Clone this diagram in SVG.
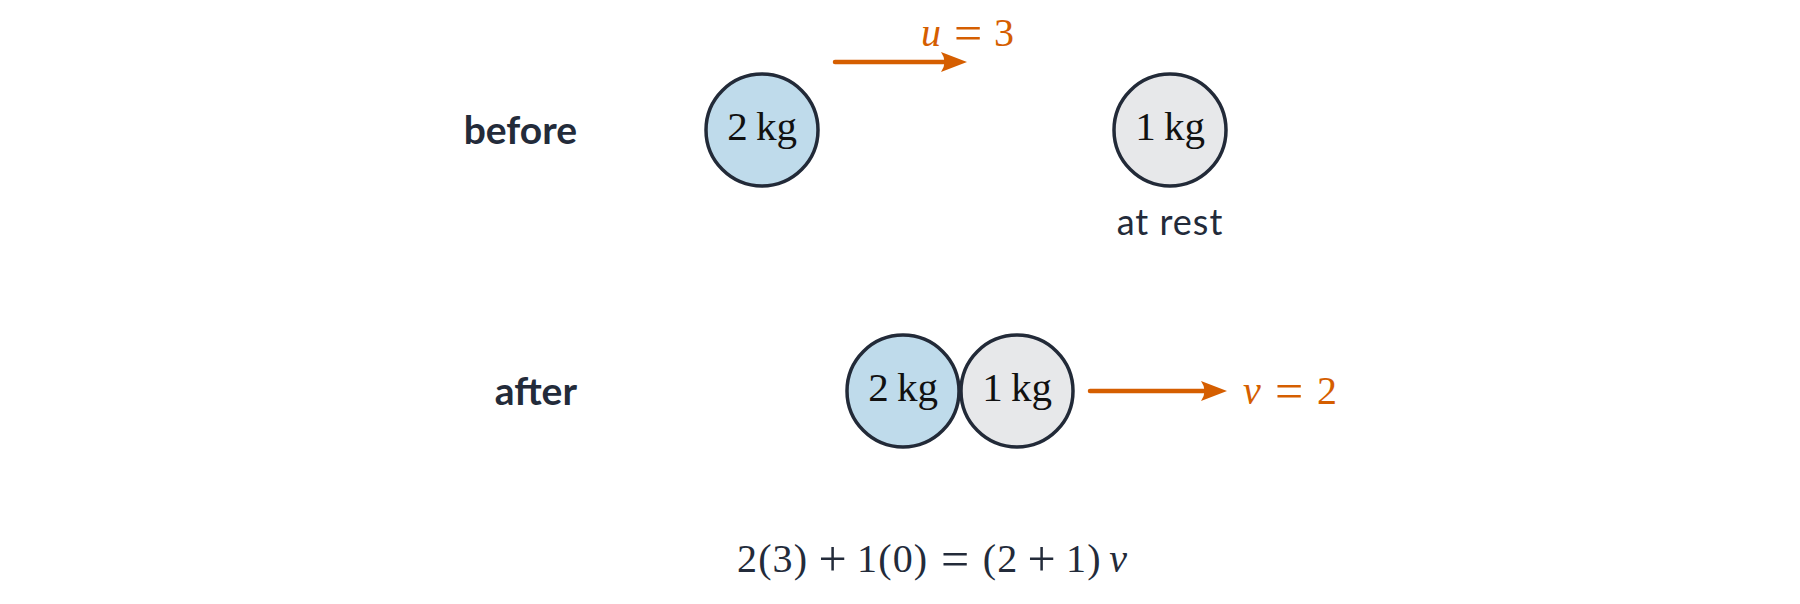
<svg xmlns="http://www.w3.org/2000/svg" width="1800" height="604" viewBox="0 0 1800 604">
<defs>
<style>
.lbl{font-family:Lato,"Noto Sans",sans-serif;font-weight:700;font-size:39px;fill:#232b3a;text-anchor:end}
.note{font-family:Lato,"Noto Sans",sans-serif;font-size:36px;letter-spacing:1px;fill:#232b3a;text-anchor:middle}
.mass{font-family:"Liberation Serif",serif;font-size:41px;word-spacing:-2px;fill:#111111;text-anchor:middle}
.math{font-family:"Liberation Serif",serif;font-size:40px;text-anchor:middle}
.op{font-size:50px}
.orange{fill:#d55e00}
.dark{fill:#232b3a}
.it{font-style:italic}
.ball{stroke:#222a38;stroke-width:3.5}
.heavy{fill:#bfdbeb}
.light{fill:#e7e8ea}
.arrow{stroke:#d55e00;stroke-width:4.5;stroke-linecap:round;fill:none}
</style>
<marker id="ah" markerWidth="28" markerHeight="24" refX="15" refY="12" orient="auto" markerUnits="userSpaceOnUse">
<path d="M2,2 L28,12 L2,22 Q9,12 2,2 Z" fill="#d55e00"/>
</marker>
</defs>
<rect width="1800" height="604" fill="#ffffff"/>
<g id="label-before"><text class="lbl" x="577" y="144">before</text></g>
<g id="label-after"><text class="lbl" x="577" y="405">after</text></g>
<g id="before-2kg">
<circle class="ball heavy" cx="762" cy="130" r="56"/>
<text class="mass" x="762" y="140">2 kg</text>
</g>
<g id="before-1kg">
<circle class="ball light" cx="1170" cy="130" r="56"/>
<text class="mass" x="1170" y="140">1 kg</text>
<text class="note" x="1170" y="235">at rest</text>
</g>
<g id="after-2kg">
<circle class="ball heavy" cx="903" cy="391" r="56"/>
<text class="mass" x="903" y="401">2 kg</text>
</g>
<g id="after-1kg">
<circle class="ball light" cx="1017" cy="391" r="56"/>
<text class="mass" x="1017" y="401">1 kg</text>
</g>
<g id="connectors">
<line class="arrow" x1="835" y1="62" x2="954" y2="62" marker-end="url(#ah)"/>
<line class="arrow" x1="1090" y1="391" x2="1214" y2="391" marker-end="url(#ah)"/>
</g>
<g id="label-u">
<text class="math orange"><tspan class="it" x="931" y="46">u</tspan><tspan class="op" x="968" y="50">=</tspan><tspan x="1004" y="46">3</tspan></text>
</g>
<g id="label-v">
<text class="math orange"><tspan class="it" x="1252" y="404">v</tspan><tspan class="op" x="1289" y="408">=</tspan><tspan x="1327" y="404">2</tspan></text>
</g>
<g id="equation">
<text class="math dark"><tspan x="747" y="572">2</tspan><tspan x="764.8" y="572">(</tspan><tspan x="782.6" y="572">3</tspan><tspan x="800.4" y="572">)</tspan><tspan class="op" x="832.6" y="576">+</tspan><tspan x="867.1" y="572">1</tspan><tspan x="884.9" y="572">(</tspan><tspan x="902.7" y="572">0</tspan><tspan x="920.5" y="572">)</tspan><tspan class="op" x="955" y="576">=</tspan><tspan x="989.4" y="572">(</tspan><tspan x="1007.2" y="572">2</tspan><tspan class="op" x="1041.6" y="576">+</tspan><tspan x="1076.1" y="572">1</tspan><tspan x="1093.9" y="572">)</tspan><tspan class="it" x="1118.1" y="572">v</tspan></text>
</g>
</svg>
